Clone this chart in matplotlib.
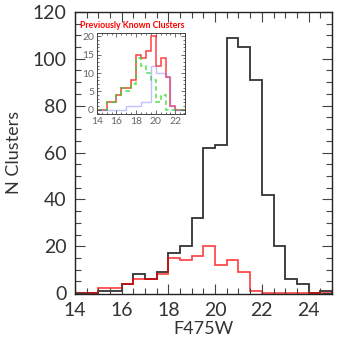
import numpy as np
import matplotlib
matplotlib.use("Agg")
from matplotlib import pyplot as plt
from matplotlib.ticker import MultipleLocator

# F475W histogram, 0.5 mag bins from 14 to 25
bin_lo = 14.0
bin_w = 0.5
all_clusters = [0, 0, 1, 1, 4, 8, 6, 9, 17, 20, 32, 62, 63, 109, 105, 91, 42, 20, 6, 4, 0, 1]
known_clusters = [0, 0, 2, 2, 4, 6, 6, 8, 15, 14, 16, 20, 12, 14, 9, 1, 0, 0, 0, 0, 0, 0]

# inset sub-samples (same bins)
known_green = [0, 0, 2, 2, 4, 6, 5, 7, 14, 12, 10, 8, 2, 4, 0, 0, 0, 0]
known_blue = [0, 0, 0, 0, 0, 0, 1, 1, 1, 2, 2, 12, 10, 10, 9, 1, 0, 0]

edges = bin_lo + bin_w * np.arange(len(all_clusters) + 1)
edges_in = bin_lo + bin_w * np.arange(len(known_green) + 1)

plt.rcParams['font.family'] = ['Lato', 'DejaVu Sans']
txt = '#333333'

fig = plt.figure(figsize=(3.52, 3.49), dpi=100)
ax = fig.add_axes([0.213, 0.158, 0.73, 0.808])

ax.stairs(all_clusters, edges, color='black', lw=1.3, alpha=0.8)
ax.stairs(known_clusters, edges, color='red', lw=1.3, alpha=0.7)

ax.set_xlim(14, 25)
ax.set_ylim(-0.3, 120)
ax.xaxis.set_major_locator(MultipleLocator(2))
ax.xaxis.set_minor_locator(MultipleLocator(0.5))
ax.yaxis.set_major_locator(MultipleLocator(20))
ax.yaxis.set_minor_locator(MultipleLocator(5))
ax.tick_params(which='both', direction='in', top=True, right=True, colors='#444444',
               labelcolor=txt, labelsize=14, width=0.8)
ax.tick_params(which='major', length=7, pad=6)
ax.tick_params(which='minor', length=4)
for s in ax.spines.values():
    s.set_linewidth(1.0)
    s.set_color('#222222')
ax.set_xlabel('F475W', fontsize=13, color=txt, labelpad=1)
ax.set_ylabel('N Clusters', fontsize=13, color=txt, labelpad=8)

# inset
ins = fig.add_axes([0.275, 0.673, 0.251, 0.233])
ins.stairs(known_clusters[:len(known_green)], edges_in, color='red', lw=1.1, alpha=0.75)
ins.stairs(known_green, edges_in, color='#22dd22', lw=1.1, ls=(0, (3, 2)), alpha=0.8)
ins.stairs(known_blue, edges_in, color='#7777ff', lw=1.0, alpha=0.45)
ins.set_xlim(14, 23)
ins.set_ylim(-1.2, 21)
ins.xaxis.set_major_locator(MultipleLocator(2))
ins.xaxis.set_minor_locator(MultipleLocator(0.5))
ins.yaxis.set_major_locator(MultipleLocator(5))
ins.yaxis.set_minor_locator(MultipleLocator(1))
ins.tick_params(which='both', direction='in', top=True, right=True, colors='#555555',
                labelcolor='#666666', labelsize=7.5, width=0.6, pad=2)
ins.tick_params(which='major', length=3)
ins.tick_params(which='minor', length=1.5)
for s in ins.spines.values():
    s.set_linewidth(0.7)
    s.set_color('#444444')
fig.text(80 / 352, 1 - 25 / 349, 'Previously Known Clusters', color='red',
         fontsize=6.3, fontweight='bold', ha='left', va='center')

fig.savefig('out.png', dpi=100)
